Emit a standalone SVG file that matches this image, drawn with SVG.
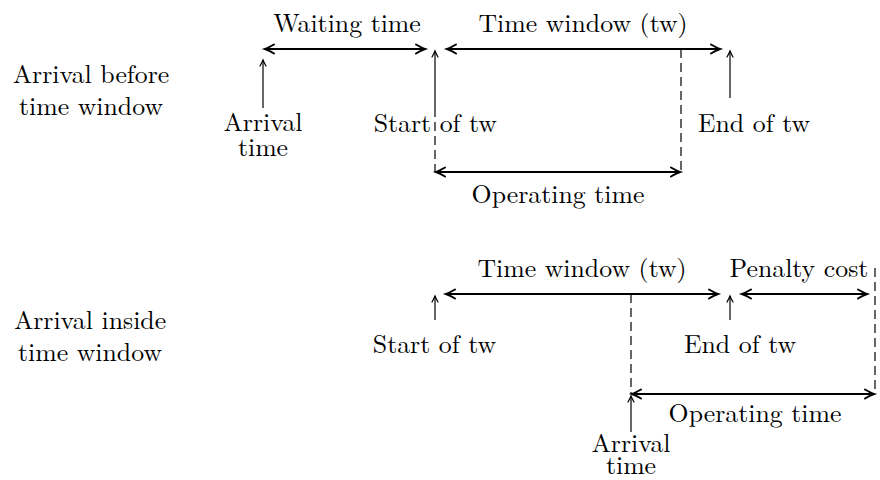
<svg xmlns="http://www.w3.org/2000/svg" width="880" height="480" viewBox="0 0 880 480">
<style>
.m{text-anchor:middle}
.thick{stroke:#000;stroke-width:2;fill:none}
.thin{stroke:#000;stroke-width:1.2;fill:none}
.dash{stroke:#000;stroke-width:1.2;fill:none;stroke-dasharray:9 5}
</style>
<defs>
<marker id="hb" markerUnits="userSpaceOnUse" viewBox="-11 -6 12 12" markerWidth="12" markerHeight="12" refX="0" refY="0" orient="auto-start-reverse" overflow="visible">
<path d="M -9 -4.5 Q -3 -1 0 0 Q -3 1 -9 4.5" fill="none" stroke="#000" stroke-width="2" stroke-linecap="round"/>
</marker>
<marker id="hs" markerUnits="userSpaceOnUse" viewBox="-8 -4 9 8" markerWidth="9" markerHeight="8" refX="0" refY="0" orient="auto" overflow="visible">
<path d="M -6 -3 Q -2 -0.7 0 0 Q -2 0.7 -6 3" fill="none" stroke="#000" stroke-width="1.2" stroke-linecap="round"/>
</marker>
</defs>
<g id="connectors">
<line class="thick" x1="265" y1="49" x2="425" y2="49" marker-start="url(#hb)" marker-end="url(#hb)"/>
<line class="thin" x1="263" y1="108" x2="263" y2="60" marker-end="url(#hs)"/>
<line class="thin" x1="435" y1="108" x2="435" y2="51" marker-end="url(#hs)"/>
<line class="dash" x1="435" y1="108" x2="435" y2="172"/>
<line class="thick" x1="447" y1="49" x2="720" y2="49" marker-start="url(#hb)" marker-end="url(#hb)"/>
<line class="dash" x1="681" y1="49" x2="681" y2="172"/>
<line class="thin" x1="730" y1="98" x2="730" y2="51" marker-end="url(#hs)"/>
<line class="thick" x1="436" y1="172" x2="680" y2="172" marker-start="url(#hb)" marker-end="url(#hb)"/>
<line class="thin" x1="435" y1="320" x2="435" y2="296" marker-end="url(#hs)"/>
<line class="thick" x1="446" y1="294" x2="718" y2="294" marker-start="url(#hb)" marker-end="url(#hb)"/>
<line class="dash" x1="631" y1="294" x2="631" y2="394"/>
<line class="thin" x1="730" y1="320" x2="730" y2="296" marker-end="url(#hs)"/>
<line class="thick" x1="742" y1="294" x2="867" y2="294" marker-start="url(#hb)" marker-end="url(#hb)"/>
<line class="dash" x1="875" y1="268" x2="875" y2="394"/>
<line class="thick" x1="632" y1="394" x2="874" y2="394" marker-start="url(#hb)" marker-end="url(#hb)"/>
<line class="thin" x1="631" y1="432" x2="631" y2="396" marker-end="url(#hs)"/>
</g>
<g id="texts" font-family="Latin Modern Roman" font-size="25.8" fill="#000">
<g id="row1-label"><text class="m" x="91" y="83">Arrival before</text><text class="m" x="91" y="115">time window</text></g>
<g id="row2-label"><text class="m" x="90" y="329">Arrival inside</text><text class="m" x="90" y="361">time window</text></g>
<g id="waiting"><text class="m" x="347" y="32">Waiting time</text></g>
<g id="tw1"><text class="m" x="583" y="32">Time window (tw)</text></g>
<g id="arrival1"><text class="m" x="263" y="131">Arrival</text><text class="m" x="263" y="156">time</text></g>
<g id="start1"><text class="m" x="435.3" y="132">Start of tw</text></g>
<g id="end1"><text class="m" x="754" y="132">End of tw</text></g>
<g id="op1"><text class="m" x="558" y="203">Operating time</text></g>
<g id="tw2"><text class="m" x="582" y="277">Time window (tw)</text></g>
<g id="penalty"><text class="m" x="799" y="277">Penalty cost</text></g>
<g id="start2"><text class="m" x="434.5" y="353">Start of tw</text></g>
<g id="end2"><text class="m" x="740" y="353">End of tw</text></g>
<g id="op2"><text class="m" x="755" y="422">Operating time</text></g>
<g id="arrival2"><text class="m" x="631" y="452">Arrival</text><text class="m" x="631" y="474">time</text></g>
</g>
</svg>
